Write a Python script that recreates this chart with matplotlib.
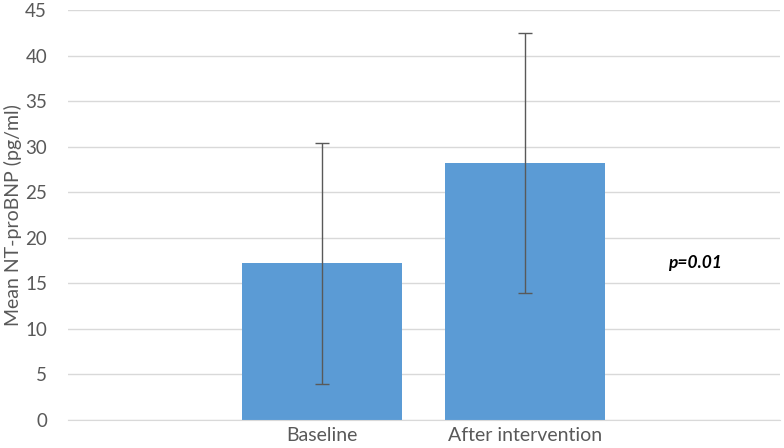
import matplotlib
matplotlib.use("Agg")
import matplotlib.pyplot as plt

categories = ["Baseline", "After intervention"]
means = [17.2, 28.2]
errors = [13.2, 14.3]
yticks = [0, 5, 10, 15, 20, 25, 30, 35, 40, 45]
annotation = "p=0.01"

plt.rcParams['font.family'] = ['Lato', 'DejaVu Sans']

fig = plt.figure(figsize=(7.84, 4.48), dpi=100)
ax = fig.add_axes([0.0867, 0.0625, 0.908, 0.915])

x = list(range(len(categories)))
ax.bar(x, means, width=0.79, color="#5B9BD5", zorder=2,
       yerr=errors, error_kw=dict(ecolor="#595959", elinewidth=1.0, capsize=5, capthick=1.0, zorder=3))

ax.set_xlim(-1.257, 2.26)
ax.set_ylim(0, 45)
ax.set_yticks(yticks)
ax.set_xticks(x)
ax.set_xticklabels(categories)
ax.yaxis.grid(True, color="#D9D9D9", linewidth=1.0, zorder=0)
ax.set_axisbelow(True)
for s in ["top", "right", "left"]:
    ax.spines[s].set_visible(False)
ax.spines["bottom"].set_color("#D9D9D9")
ax.tick_params(axis="both", length=0, colors="#595959")
ax.tick_params(axis="x", labelsize=14, pad=5)
ax.tick_params(axis="y", labelsize=13.5, pad=15)
ax.set_ylabel("Mean NT-proBNP (pg/ml)", fontsize=14, color="#595959", labelpad=2)

ax.text(1.84, 17.2, annotation, fontsize=12.5, fontweight="bold", fontstyle="italic",
        color="black", ha="center", va="center")

fig.savefig("out.png", dpi=100)
